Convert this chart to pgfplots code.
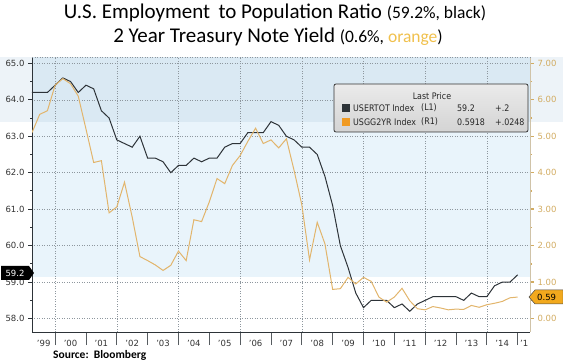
\documentclass[border=0pt]{standalone}
\usepackage{pgfplots}
\pgfplotsset{compat=1.18}
\usepackage{pgfplotstable}
\usepackage{fontspec}
\setmainfont{DejaVu Sans}
\newfontfamily\titlefont{Carlito}
\definecolor{empc}{HTML}{2D3338}
\definecolor{yldc}{HTML}{E2B56C}
\definecolor{tanlab}{HTML}{D2AC62}
\definecolor{gridc}{HTML}{8E979E}
\definecolor{bandA}{HTML}{DAE9F3}
\definecolor{bandB}{HTML}{E9F4FB}
\definecolor{margA}{HTML}{EDF3F8}
\definecolor{orsq}{HTML}{F09A22}
\definecolor{ttlor}{HTML}{F0C04C}

\pgfplotstableread{
x y
1999.25 64.2
1999.50 64.2
1999.75 64.2
2000.00 64.4
2000.25 64.6
2000.50 64.5
2000.75 64.2
2001.00 64.4
2001.25 64.3
2001.50 63.7
2001.75 63.5
2002.00 62.9
2002.25 62.8
2002.50 62.7
2002.75 63.0
2003.00 62.4
2003.25 62.4
2003.50 62.3
2003.75 62.0
2004.00 62.2
2004.25 62.2
2004.50 62.4
2004.75 62.3
2005.00 62.4
2005.25 62.4
2005.50 62.7
2005.75 62.8
2006.00 62.8
2006.25 63.1
2006.50 63.1
2006.75 63.1
2007.00 63.4
2007.25 63.3
2007.50 63.0
2007.75 62.9
2008.00 62.7
2008.25 62.7
2008.50 62.5
2008.75 61.9
2009.00 61.1
2009.25 60.0
2009.50 59.4
2009.75 58.7
2010.00 58.3
2010.25 58.5
2010.50 58.5
2010.75 58.5
2011.00 58.3
2011.25 58.4
2011.50 58.2
2011.75 58.4
2012.00 58.5
2012.25 58.6
2012.50 58.6
2012.75 58.6
2013.00 58.6
2013.25 58.5
2013.50 58.7
2013.75 58.6
2014.00 58.6
2014.25 58.9
2014.50 59.0
2014.75 59.0
2015.00 59.2
}\emptab

\pgfplotstableread{
x y
1999.25 5.10
1999.50 5.60
1999.75 5.70
2000.00 6.40
2000.25 6.58
2000.50 6.44
2000.75 6.10
2001.00 5.20
2001.25 4.28
2001.50 4.33
2001.75 2.90
2002.00 3.06
2002.25 3.74
2002.50 2.78
2002.75 1.70
2003.00 1.59
2003.25 1.47
2003.50 1.32
2003.75 1.46
2004.00 1.85
2004.25 1.59
2004.50 2.71
2004.75 2.66
2005.00 3.20
2005.25 3.84
2005.50 3.70
2005.75 4.20
2006.00 4.47
2006.25 4.86
2006.50 5.22
2006.75 4.80
2007.00 4.90
2007.25 4.68
2007.50 4.93
2007.75 4.06
2008.00 3.12
2008.25 1.61
2008.50 2.64
2008.75 2.05
2009.00 0.80
2009.25 0.82
2009.50 1.13
2009.75 0.95
2010.00 1.13
2010.25 1.02
2010.50 0.59
2010.75 0.45
2011.00 0.59
2011.25 0.83
2011.50 0.49
2011.75 0.27
2012.00 0.24
2012.25 0.33
2012.50 0.29
2012.75 0.24
2013.00 0.26
2013.25 0.25
2013.50 0.36
2013.75 0.31
2014.00 0.38
2014.25 0.42
2014.50 0.47
2014.75 0.57
2015.00 0.59
}\yldtab

\newcommand{\legtxt}[1]{\scalebox{0.88}[1]{#1}}

\begin{document}
\begin{tikzpicture}[x=1pt,y=1pt]
\useasboundingbox (0,0) rectangle (563,362);
% background bands
\fill[margA] (0,240) rectangle (563,305);
\fill[bandA] (32,240) rectangle (530,305);
\fill[bandB] (32,85) rectangle (530,240);

\begin{axis}[
  at={(32pt,30pt)}, anchor=south west,
  scale only axis, width=498pt, height=275pt,
  xmin=1999.25, xmax=2015.4,
  ymin=57.632, ymax=65.173,
  axis x line*=bottom, axis y line*=left,
  axis line style={draw=empc, line width=0.8pt, -},
  tick align=outside,
  ytick={58,59,...,65},
  minor y tick num=1,
  ymajorgrids,
  grid style={draw=gridc, line width=0.5pt, dash pattern=on 1pt off 1.5pt},
  y tick style={draw=empc, line width=0.9pt},
  major tick length=4pt, minor tick length=2pt,
  yticklabel style={font=\fontsize{8.5}{10}\selectfont, text=black!80, /pgf/number format/.cd, fixed, fixed zerofill, precision=1},
  /pgf/number format/assume math mode=true,
  xtick={1999.63,2000.5,2001.5,2002.5,2003.5,2004.5,2005.5,2006.5,2007.5,2008.5,2009.5,2010.5,2011.5,2012.5,2013.5,2014.5,2015.21},
  xticklabels={'99,'00,'01,'02,'03,'04,'05,'06,'07,'08,'09,'10,'11,'12,'13,'14,'1},
  x tick style={draw=none},
  xticklabel style={font=\fontsize{8.5}{10}\selectfont, text=black!80, yshift=-1pt},
  minor xtick={2000,2001,...,2015},
  minor x tick style={draw=empc!80, line width=0.8pt, /pgfplots/minor tick length=13pt},
  extra x ticks={2000,2002,2004,2006,2008,2010,2012,2014},
  extra x tick labels={},
  extra x tick style={grid=major, major tick length=0pt, x tick style={draw=none}},
]
\addplot[empc, line width=1pt] table[x=x,y=y] {\emptab};
\end{axis}

\begin{axis}[
  at={(32pt,30pt)}, anchor=south west,
  scale only axis, width=498pt, height=275pt,
  xmin=1999.25, xmax=2015.4,
  ymin=-0.368, ymax=7.173,
  axis x line=none, axis y line*=right,
  axis line style={draw=tanlab!60!gray!60, line width=0.8pt, -},
  ytick={0,1,...,7},
  minor y tick num=1,
  tick align=outside,
  major tick length=4pt, minor tick length=2pt,
  y tick style={draw=tanlab, line width=1.4pt},
  yticklabel style={font=\fontsize{8.5}{10}\selectfont, text=tanlab, /pgf/number format/.cd, fixed, fixed zerofill, precision=2},
  /pgf/number format/assume math mode=true,
]
\addplot[yldc, line width=1pt] table[x=x,y=y] {\yldtab};
\end{axis}

% top dotted border
\draw[gridc, line width=0.5pt, dash pattern=on 1pt off 1.5pt] (32,305) -- (530,305);

% legend
\draw[rounded corners=2pt, draw=black!80, line width=0.8pt, top color=black!8, bottom color=black!17] (334,278) rectangle (528,230);
\node[font=\fontsize{9}{10}\selectfont, text=black!85] at (432,266) {\legtxt{Last Price}};
\fill[empc] (342,250) rectangle (350,258);
\fill[orsq] (342,236) rectangle (350,244);
\begin{scope}[every node/.style={anchor=west, font=\fontsize{9}{10}\selectfont, text=black!85, inner sep=0pt}]
\node at (353,254) {\legtxt{USERTOT Index}};
\node at (421,254) {\legtxt{(L1)}};
\node at (457,254) {\legtxt{59.2}};
\node at (495,254) {\legtxt{+.2}};
\node at (353,240) {\legtxt{USGG2YR Index}};
\node at (421,240) {\legtxt{(R1)}};
\node at (457,240) {\legtxt{0.5918}};
\node at (495,240) {\legtxt{+.0248}};
\end{scope}

% last value tags
\fill[black] (1,96) -- (29,96) -- (34,89) -- (29,82) -- (1,82) -- cycle;
\node[text=white, font=\fontsize{8.5}{10}\selectfont, inner sep=0pt] at (15,89) {59.2};
\draw[fill=orsq!85!yellow, draw=black!70, line width=0.5pt] (563,72) -- (535,72) -- (529,65) -- (535,58) -- (563,58) -- cycle;
\node[text=black, font=\fontsize{8.5}{10}\selectfont, anchor=west, inner sep=0pt] at (537,65) {0.59};

% title
\node[anchor=base, inner sep=0pt] at (275,343.5) {\titlefont\fontsize{21}{24}\selectfont U.S. Employment\, to Population Ratio {\fontsize{17.5}{20}\selectfont (59.2\%, black)}};
\node[anchor=base, inner sep=0pt] at (278,319) {\titlefont\fontsize{21}{24}\selectfont 2 Year Treasury Note Yield {\fontsize{17.5}{20}\selectfont (0.6\%, \textcolor{ttlor}{orange})}};

% source
\node[anchor=west, inner sep=0pt, font=\titlefont\bfseries\fontsize{11.5}{13}\selectfont] at (53,7) {Source:\ \ Bloomberg};
\end{tikzpicture}
\end{document}
